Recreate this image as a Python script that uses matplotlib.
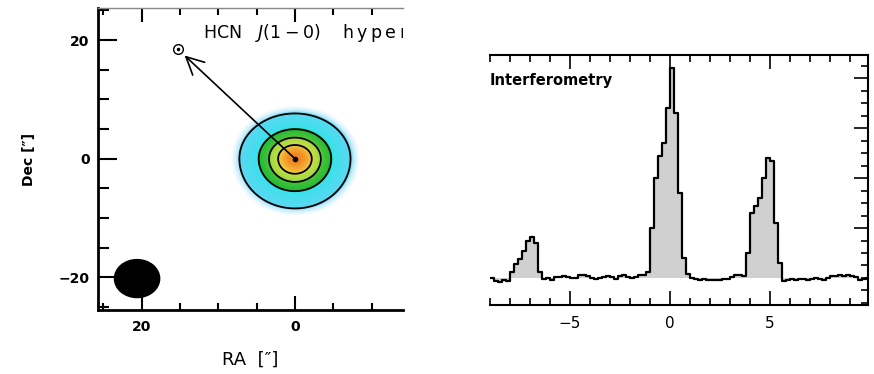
import numpy as np
import matplotlib
matplotlib.use("Agg")
import matplotlib.pyplot as plt
from matplotlib.colors import LinearSegmentedColormap
from matplotlib.patches import Ellipse
from matplotlib.ticker import MultipleLocator, FixedLocator

# --- mapa HCN: fuente gaussiana (parámetros)
src_x, src_y = 0.0, 0.0
sigma_x = 3.85
sigma_up = 4.05
sigma_down = 4.45
niveles = [0.17, 0.47, 0.68, 0.85]
ra_ticks = [20, 0]
dec_ticks = [20, 0, -20]
flecha_fin = (14.4, 17.4)
sol_pos = (15.3, 18.5)
beam_pos = (20.6, -20.2)
beam_w, beam_h = 5.9, 6.4

# --- espectro interferométrico (canales de 0.2 desde -9)
v_ini, dv = -9.0, 0.2
flujo = [0.000, -0.006, -0.008, -0.004, -0.007,
         0.012, 0.028, 0.038, 0.055, 0.075, 0.082, 0.070, 0.012, -0.002,
         0.000, -0.004, 0.002, 0.002, 0.003, 0.001, -0.001, 0.000, 0.005,
         0.006, 0.004, 0.000, -0.002, 0.000, 0.002, 0.004, 0.002, -0.002,
         0.003, 0.006, 0.002, 0.000, 0.002, 0.005, 0.006,
         0.012, 0.10, 0.20, 0.245, 0.27, 0.34, 0.42, 0.33, 0.17, 0.04, 0.008,
         0.000, -0.002, -0.004, -0.002, -0.004, -0.005, -0.004, -0.004,
         -0.002, -0.003, 0.002, 0.005, 0.006, 0.004,
         0.05, 0.13, 0.145, 0.16, 0.20, 0.24, 0.235, 0.11, 0.03, -0.006,
         -0.005, -0.003, -0.004, -0.002, -0.003, -0.004, -0.002, 0.000,
         -0.002, -0.004, 0.000, 0.004, 0.003, 0.005, 0.004, 0.006, 0.004,
         0.001, -0.004, -0.003, 0.000]
vel_ticks = [-5, 0, 5]

fig = plt.figure(figsize=(8.74, 3.74), dpi=100)

# ===== panel izquierdo =====
ax1 = fig.add_axes([0.1121, 0.1711, 0.349, 0.8075])
xx, yy = np.meshgrid(np.linspace(-16, 28, 441), np.linspace(-27, 27, 541))
sy = np.where(yy - src_y > 0, sigma_up, sigma_down)
img = np.exp(-((xx - src_x) ** 2 / (2 * sigma_x ** 2) + (yy - src_y) ** 2 / (2 * sy ** 2)))

cmap = LinearSegmentedColormap.from_list("hcn", [
    (0.0, "#ffffff"), (0.09, "#ffffff"), (0.14, "#c4ecfc"), (0.17, "#5ad8f2"),
    (0.45, "#38e2ea"), (0.47, "#22b83a"), (0.66, "#46c434"), (0.68, "#9cd842"),
    (0.84, "#c4de44"), (0.86, "#f2cc3c"), (0.93, "#f4a632"), (1.0, "#f08220")])
ax1.imshow(img, extent=[-16, 28, -27, 27], origin="lower", cmap=cmap,
           vmin=0, vmax=1, aspect="auto", interpolation="bilinear")
ax1.contour(xx, yy, img, levels=niveles, colors="k", linewidths=1.3)

ax1.annotate("", xy=flecha_fin, xytext=(src_x, src_y),
             arrowprops=dict(arrowstyle="->,head_length=0.9,head_width=0.45",
                             lw=1.2, color="k", mutation_scale=14, shrinkA=0, shrinkB=0))
ax1.plot(src_x, src_y, "o", color="k", ms=3)
ax1.plot(*sol_pos, "o", mfc="none", mec="k", ms=7, mew=1.0)
ax1.plot(*sol_pos, "o", color="k", ms=1.5)
ax1.add_patch(Ellipse(beam_pos, beam_w, beam_h, color="k"))

ax1.text(12.0, 21.2,
         "HCN   $J$(1\u2009\u2212\u20090)    h\u2009y\u2009p\u2009e\u2009r\u2009fine",
         fontsize=12.5, va="center", ha="left", clip_on=True)

ax1.set_xlim(25.7, -14.1)
ax1.set_ylim(-25.5, 25.4)
ax1.set_xticks(ra_ticks)
ax1.set_yticks(dec_ticks)
ax1.set_yticklabels(["20", "0", "\u221220"])
ax1.xaxis.set_minor_locator(MultipleLocator(5))
ax1.yaxis.set_minor_locator(MultipleLocator(5))
ax1.tick_params(which="both", direction="in", top=True, right=False, width=1.5,
                labelsize=10)
ax1.tick_params(axis="y", which="major", length=14, pad=6)
ax1.tick_params(axis="y", which="minor", length=8)
ax1.tick_params(axis="x", which="major", length=10, pad=7)
ax1.tick_params(axis="x", which="minor", length=5)
for lab in ax1.get_xticklabels() + ax1.get_yticklabels():
    lab.set_fontweight("bold")
ax1.spines["right"].set_visible(False)
ax1.spines["left"].set_linewidth(2)
ax1.spines["bottom"].set_linewidth(2)
ax1.spines["top"].set_linewidth(1)
ax1.spines["top"].set_color("#888888")
ax1.set_xlabel('RA  [\u2033]', fontsize=13, labelpad=12)
ax1.set_ylabel('Dec [\u2033]', fontsize=10, fontweight="bold", labelpad=16)

# ===== panel derecho =====
ax2 = fig.add_axes([0.5606, 0.1845, 0.4325, 0.6684])
bordes = v_ini + dv * np.arange(len(flujo) + 1)
f_ext = np.append(flujo, flujo[-1])
ax2.fill_between(bordes, f_ext, 0, step="post", color="#d0d0d0", lw=0)
ax2.step(bordes, f_ext, where="post", color="k", lw=1.6)
ax2.text(0.0, 0.9, "Interferometry", transform=ax2.transAxes, fontsize=10.5,
         fontweight="bold", va="center", ha="left")

ax2.set_xlim(-9.0, 9.9)
ax2.set_ylim(-0.054, 0.446)
ax2.set_xticks(vel_ticks)
ax2.set_xticklabels(["\u22125", "0", "5"])
ax2.xaxis.set_minor_locator(MultipleLocator(1))
ax2.yaxis.set_major_locator(FixedLocator([0.1, 0.2, 0.3, 0.4]))
ax2.yaxis.set_minor_locator(MultipleLocator(0.025))
ax2.tick_params(which="both", direction="in", top=True, right=True, left=False,
                labelleft=False, width=1.2, labelsize=11)
ax2.tick_params(which="major", length=10, pad=8)
ax2.tick_params(which="minor", length=5)
ax2.spines["left"].set_visible(False)
for s in ["top", "bottom", "right"]:
    ax2.spines[s].set_linewidth(1.5)

fig.savefig("out.png", dpi=100)
